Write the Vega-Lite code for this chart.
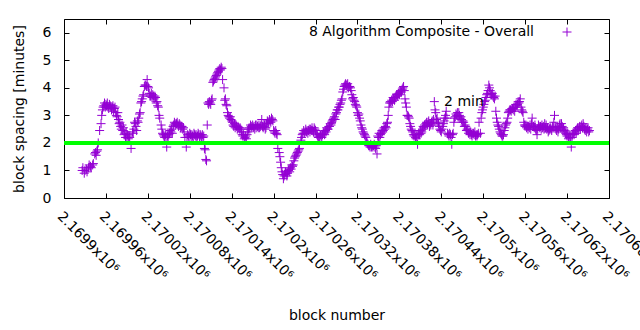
{
  "$schema": "https://vega.github.io/schema/vega-lite/v6.json",
  "width": 545,
  "height": 179,
  "autosize": {"type": "none"},
  "padding": {"left": 64, "top": 19, "right": 31, "bottom": 132},
  "background": "white",
  "config": {
    "font": "DejaVu Sans",
    "view": {"stroke": "black", "strokeWidth": 1},
    "axis": {"grid": false, "domain": false, "tickColor": "black", "tickSize": -5, "labelColor": "black", "labelFontSize": 14, "titleFontSize": 14, "titleFontWeight": "normal", "titleColor": "black"}
  },
  "resolve": {"axis": {"x": "independent", "y": "independent"}},
  "layer": [
    {
      "data": {"values": [
        {"block":2169926,"minutes":1.0},{"block":2169929,"minutes":0.9},{"block":2169932,"minutes":1.05},{"block":2169935,"minutes":1.1},{"block":2169938,"minutes":1.15},{"block":2169941,"minutes":1.2},{"block":2169944,"minutes":1.6},{"block":2169947,"minutes":1.7},{"block":2169949,"minutes":2.0},{"block":2169951,"minutes":2.45},{"block":2169953,"minutes":2.7},{"block":2169955,"minutes":3.2},{"block":2169957,"minutes":3.35},{"block":2169960,"minutes":3.4},{"block":2169963,"minutes":3.3},{"block":2169966,"minutes":3.35},{"block":2169969,"minutes":3.3},{"block":2169972,"minutes":3.25},{"block":2169975,"minutes":3.0},{"block":2169978,"minutes":2.85},{"block":2169981,"minutes":2.6},{"block":2169984,"minutes":2.45},{"block":2169987,"minutes":2.35},{"block":2169990,"minutes":2.2},{"block":2169993,"minutes":2.25},{"block":2169996,"minutes":1.8},{"block":2169998,"minutes":2.4},
        {"block":2170000,"minutes":2.5},{"block":2170002,"minutes":2.7},{"block":2170005,"minutes":2.8},{"block":2170008,"minutes":3.05},{"block":2170011,"minutes":3.5},{"block":2170013,"minutes":3.7},{"block":2170015,"minutes":4.05},{"block":2170017,"minutes":4.1},{"block":2170019,"minutes":4.3},{"block":2170021,"minutes":4.0},{"block":2170024,"minutes":3.7},{"block":2170027,"minutes":3.75},{"block":2170030,"minutes":3.7},{"block":2170033,"minutes":3.5},{"block":2170035,"minutes":3.3},{"block":2170037,"minutes":2.9},{"block":2170039,"minutes":2.65},{"block":2170042,"minutes":2.3},{"block":2170045,"minutes":2.3},{"block":2170047,"minutes":1.85},{"block":2170050,"minutes":2.3},{"block":2170053,"minutes":2.4},{"block":2170056,"minutes":2.6},{"block":2170059,"minutes":2.7},{"block":2170062,"minutes":2.75},{"block":2170065,"minutes":2.7},{"block":2170068,"minutes":2.6},{"block":2170071,"minutes":2.55},{"block":2170073,"minutes":2.2},{"block":2170075,"minutes":1.85},{"block":2170078,"minutes":2.25},{"block":2170081,"minutes":2.3},{"block":2170084,"minutes":2.25},{"block":2170087,"minutes":2.3},{"block":2170090,"minutes":2.2},{"block":2170093,"minutes":2.3},{"block":2170096,"minutes":2.25},{"block":2170099,"minutes":2.2},
        {"block":2170101,"minutes":1.8},{"block":2170103,"minutes":1.4},{"block":2170105,"minutes":2.65},{"block":2170107,"minutes":3.4},{"block":2170109,"minutes":3.45},{"block":2170111,"minutes":3.55},{"block":2170113,"minutes":4.2},{"block":2170115,"minutes":4.3},{"block":2170117,"minutes":4.4},{"block":2170119,"minutes":4.5},{"block":2170121,"minutes":4.6},{"block":2170123,"minutes":4.7},{"block":2170125,"minutes":4.75},{"block":2170127,"minutes":4.3},{"block":2170129,"minutes":4.0},{"block":2170131,"minutes":3.6},{"block":2170133,"minutes":3.35},{"block":2170135,"minutes":3.0},{"block":2170138,"minutes":2.95},{"block":2170141,"minutes":2.75},{"block":2170144,"minutes":2.7},{"block":2170147,"minutes":2.6},{"block":2170150,"minutes":2.55},{"block":2170153,"minutes":2.5},{"block":2170156,"minutes":2.25},{"block":2170159,"minutes":2.2},{"block":2170162,"minutes":2.3},{"block":2170165,"minutes":2.55},{"block":2170168,"minutes":2.6},{"block":2170171,"minutes":2.55},{"block":2170174,"minutes":2.65},{"block":2170177,"minutes":2.6},{"block":2170180,"minutes":2.55},{"block":2170183,"minutes":2.85},{"block":2170186,"minutes":2.6},{"block":2170189,"minutes":2.55},{"block":2170192,"minutes":2.75},{"block":2170195,"minutes":2.8},{"block":2170198,"minutes":2.85},
        {"block":2170201,"minutes":2.4},{"block":2170204,"minutes":2.35},{"block":2170206,"minutes":1.8},{"block":2170208,"minutes":1.65},{"block":2170210,"minutes":1.3},{"block":2170212,"minutes":0.95},{"block":2170214,"minutes":0.7},{"block":2170216,"minutes":0.85},{"block":2170218,"minutes":0.9},{"block":2170221,"minutes":1.0},{"block":2170224,"minutes":1.1},{"block":2170227,"minutes":1.15},{"block":2170230,"minutes":1.45},{"block":2170233,"minutes":1.6},{"block":2170235,"minutes":1.7},{"block":2170237,"minutes":1.8},{"block":2170239,"minutes":2.1},{"block":2170241,"minutes":2.3},{"block":2170244,"minutes":2.35},{"block":2170247,"minutes":2.4},{"block":2170250,"minutes":2.45},{"block":2170253,"minutes":2.5},{"block":2170256,"minutes":2.45},{"block":2170259,"minutes":2.5},{"block":2170262,"minutes":2.3},{"block":2170265,"minutes":2.2},{"block":2170268,"minutes":2.25},{"block":2170271,"minutes":2.35},{"block":2170274,"minutes":2.45},{"block":2170277,"minutes":2.5},{"block":2170280,"minutes":2.6},{"block":2170283,"minutes":2.75},{"block":2170286,"minutes":2.9},{"block":2170289,"minutes":3.05},{"block":2170292,"minutes":3.2},{"block":2170295,"minutes":3.4},{"block":2170298,"minutes":3.6},
        {"block":2170301,"minutes":4.05},{"block":2170303,"minutes":4.15},{"block":2170305,"minutes":4.1},{"block":2170307,"minutes":4.0},{"block":2170309,"minutes":4.05},{"block":2170311,"minutes":3.9},{"block":2170313,"minutes":3.6},{"block":2170315,"minutes":3.55},{"block":2170317,"minutes":3.4},{"block":2170319,"minutes":3.3},{"block":2170321,"minutes":3.0},{"block":2170323,"minutes":2.9},{"block":2170325,"minutes":2.65},{"block":2170327,"minutes":2.5},{"block":2170329,"minutes":2.35},{"block":2170331,"minutes":2.25},{"block":2170334,"minutes":2.0},{"block":2170337,"minutes":1.9},{"block":2170340,"minutes":1.85},{"block":2170343,"minutes":1.9},{"block":2170346,"minutes":1.8},{"block":2170348,"minutes":1.6},{"block":2170350,"minutes":2.2},{"block":2170353,"minutes":2.3},{"block":2170356,"minutes":2.4},{"block":2170359,"minutes":2.5},{"block":2170362,"minutes":2.7},{"block":2170364,"minutes":3.0},{"block":2170366,"minutes":3.45},{"block":2170369,"minutes":3.55},{"block":2170372,"minutes":3.6},{"block":2170375,"minutes":3.7},{"block":2170378,"minutes":3.75},{"block":2170381,"minutes":3.85},{"block":2170384,"minutes":3.95},{"block":2170386,"minutes":4.05},{"block":2170388,"minutes":3.6},{"block":2170390,"minutes":3.3},{"block":2170392,"minutes":3.0},{"block":2170394,"minutes":2.9},{"block":2170396,"minutes":2.6},{"block":2170398,"minutes":2.45},
        {"block":2170400,"minutes":2.3},{"block":2170403,"minutes":2.2},{"block":2170406,"minutes":1.95},{"block":2170409,"minutes":2.3},{"block":2170412,"minutes":2.4},{"block":2170415,"minutes":2.55},{"block":2170418,"minutes":2.7},{"block":2170421,"minutes":2.75},{"block":2170424,"minutes":2.7},{"block":2170427,"minutes":2.8},{"block":2170430,"minutes":3.5},{"block":2170432,"minutes":3.1},{"block":2170434,"minutes":2.9},{"block":2170436,"minutes":2.7},{"block":2170438,"minutes":2.5},{"block":2170440,"minutes":2.4},{"block":2170442,"minutes":2.6},{"block":2170445,"minutes":2.9},{"block":2170447,"minutes":3.15},{"block":2170449,"minutes":2.35},{"block":2170451,"minutes":2.25},{"block":2170453,"minutes":2.3},{"block":2170455,"minutes":1.95},{"block":2170457,"minutes":2.35},{"block":2170459,"minutes":2.9},{"block":2170462,"minutes":3.0},{"block":2170465,"minutes":3.1},{"block":2170468,"minutes":2.95},{"block":2170471,"minutes":2.8},{"block":2170474,"minutes":2.65},{"block":2170477,"minutes":2.5},{"block":2170480,"minutes":2.4},{"block":2170483,"minutes":2.3},{"block":2170486,"minutes":2.35},{"block":2170489,"minutes":2.25},{"block":2170492,"minutes":2.3},{"block":2170494,"minutes":2.75},{"block":2170496,"minutes":2.35},{"block":2170498,"minutes":3.1},
        {"block":2170500,"minutes":3.3},{"block":2170502,"minutes":3.5},{"block":2170504,"minutes":3.65},{"block":2170506,"minutes":3.8},{"block":2170508,"minutes":4.1},{"block":2170510,"minutes":3.9},{"block":2170512,"minutes":3.75},{"block":2170514,"minutes":3.7},{"block":2170516,"minutes":3.6},{"block":2170518,"minutes":3.15},{"block":2170520,"minutes":2.75},{"block":2170522,"minutes":2.6},{"block":2170524,"minutes":2.4},{"block":2170526,"minutes":2.3},{"block":2170528,"minutes":2.25},{"block":2170530,"minutes":2.45},{"block":2170532,"minutes":2.65},{"block":2170534,"minutes":2.75},{"block":2170536,"minutes":3.1},{"block":2170539,"minutes":3.2},{"block":2170542,"minutes":3.25},{"block":2170545,"minutes":3.15},{"block":2170548,"minutes":3.35},{"block":2170551,"minutes":3.45},{"block":2170553,"minutes":3.6},{"block":2170555,"minutes":3.2},{"block":2170557,"minutes":3.1},{"block":2170559,"minutes":2.65},{"block":2170562,"minutes":2.55},{"block":2170565,"minutes":2.6},{"block":2170568,"minutes":2.5},{"block":2170570,"minutes":2.9},{"block":2170572,"minutes":2.6},{"block":2170575,"minutes":2.5},{"block":2170577,"minutes":2.3},{"block":2170579,"minutes":2.65},{"block":2170582,"minutes":2.6},{"block":2170585,"minutes":2.55},{"block":2170588,"minutes":2.7},{"block":2170591,"minutes":2.5},{"block":2170594,"minutes":2.45},{"block":2170597,"minutes":2.5},
        {"block":2170600,"minutes":2.55},{"block":2170602,"minutes":3.0},{"block":2170604,"minutes":2.5},{"block":2170607,"minutes":2.4},{"block":2170610,"minutes":2.7},{"block":2170613,"minutes":2.6},{"block":2170616,"minutes":2.45},{"block":2170619,"minutes":2.3},{"block":2170622,"minutes":2.15},{"block":2170624,"minutes":2.3},{"block":2170626,"minutes":1.85},{"block":2170628,"minutes":2.3},{"block":2170631,"minutes":2.4},{"block":2170634,"minutes":2.5},{"block":2170637,"minutes":2.55},{"block":2170640,"minutes":2.6},{"block":2170643,"minutes":2.7},{"block":2170646,"minutes":2.45},{"block":2170649,"minutes":2.5},{"block":2170652,"minutes":2.45},
        {"block":2169927,"minutes":1.1},{"block":2169930,"minutes":1.0},{"block":2169933,"minutes":0.95},{"block":2169936,"minutes":1.2},{"block":2169939,"minutes":1.1},{"block":2169942,"minutes":1.25},{"block":2169945,"minutes":1.65},{"block":2169946,"minutes":1.55},{"block":2169948,"minutes":1.75},{"block":2169954,"minutes":3.0},{"block":2169956,"minutes":3.3},{"block":2169958,"minutes":3.45},{"block":2169959,"minutes":3.3},{"block":2169961,"minutes":3.35},{"block":2169962,"minutes":3.45},{"block":2169964,"minutes":3.25},{"block":2169965,"minutes":3.4},{"block":2169967,"minutes":3.3},{"block":2169968,"minutes":3.2},{"block":2169970,"minutes":3.35},{"block":2169971,"minutes":3.15},{"block":2169973,"minutes":3.3},{"block":2169974,"minutes":3.1},{"block":2169976,"minutes":2.95},{"block":2169977,"minutes":3.1},{"block":2169979,"minutes":2.7},{"block":2169980,"minutes":2.75},{"block":2169982,"minutes":2.5},{"block":2169983,"minutes":2.65},{"block":2169985,"minutes":2.55},{"block":2169986,"minutes":2.3},{"block":2169988,"minutes":2.2},{"block":2169989,"minutes":2.4},{"block":2169991,"minutes":2.3},{"block":2169992,"minutes":2.15},{"block":2169994,"minutes":2.2},{"block":2169999,"minutes":2.35},
        {"block":2170001,"minutes":2.75},{"block":2170003,"minutes":2.6},{"block":2170004,"minutes":2.45},{"block":2170006,"minutes":2.75},{"block":2170007,"minutes":2.9},{"block":2170009,"minutes":3.1},{"block":2170010,"minutes":3.45},{"block":2170012,"minutes":3.6},{"block":2170014,"minutes":3.75},{"block":2170016,"minutes":4.1},{"block":2170018,"minutes":4.05},{"block":2170020,"minutes":4.05},{"block":2170022,"minutes":3.8},{"block":2170023,"minutes":3.7},{"block":2170025,"minutes":3.8},{"block":2170026,"minutes":3.65},{"block":2170028,"minutes":3.7},{"block":2170029,"minutes":3.6},{"block":2170031,"minutes":3.65},{"block":2170032,"minutes":3.45},{"block":2170034,"minutes":3.35},{"block":2170036,"minutes":3.0},{"block":2170040,"minutes":2.5},{"block":2170041,"minutes":2.35},{"block":2170043,"minutes":2.25},{"block":2170044,"minutes":2.2},{"block":2170046,"minutes":2.2},{"block":2170048,"minutes":2.25},{"block":2170049,"minutes":2.2},{"block":2170051,"minutes":2.35},{"block":2170052,"minutes":2.45},{"block":2170054,"minutes":2.5},{"block":2170055,"minutes":2.35},{"block":2170057,"minutes":2.65},{"block":2170058,"minutes":2.75},{"block":2170060,"minutes":2.65},{"block":2170061,"minutes":2.7},{"block":2170063,"minutes":2.65},{"block":2170064,"minutes":2.6},{"block":2170066,"minutes":2.65},{"block":2170067,"minutes":2.55},{"block":2170069,"minutes":2.6},{"block":2170070,"minutes":2.5},{"block":2170072,"minutes":2.4},{"block":2170076,"minutes":2.2},{"block":2170077,"minutes":2.3},{"block":2170079,"minutes":2.2},{"block":2170080,"minutes":2.35},{"block":2170082,"minutes":2.2},{"block":2170083,"minutes":2.3},{"block":2170085,"minutes":2.2},{"block":2170086,"minutes":2.35},{"block":2170088,"minutes":2.25},{"block":2170089,"minutes":2.3},{"block":2170091,"minutes":2.25},{"block":2170092,"minutes":2.35},{"block":2170094,"minutes":2.2},{"block":2170095,"minutes":2.3},{"block":2170097,"minutes":2.2},{"block":2170098,"minutes":2.3},
        {"block":2170100,"minutes":2.25},{"block":2170102,"minutes":1.75},{"block":2170104,"minutes":1.35},{"block":2170106,"minutes":3.45},{"block":2170108,"minutes":3.5},{"block":2170110,"minutes":3.4},{"block":2170112,"minutes":3.6},{"block":2170114,"minutes":4.25},{"block":2170116,"minutes":4.35},{"block":2170118,"minutes":4.45},{"block":2170120,"minutes":4.55},{"block":2170122,"minutes":4.65},{"block":2170124,"minutes":4.65},{"block":2170126,"minutes":4.7},{"block":2170130,"minutes":3.55},{"block":2170132,"minutes":3.4},{"block":2170134,"minutes":3.1},{"block":2170136,"minutes":2.95},{"block":2170137,"minutes":2.9},{"block":2170139,"minutes":2.85},{"block":2170140,"minutes":2.8},{"block":2170142,"minutes":2.65},{"block":2170143,"minutes":2.6},{"block":2170145,"minutes":2.55},{"block":2170146,"minutes":2.65},{"block":2170148,"minutes":2.5},{"block":2170149,"minutes":2.6},{"block":2170151,"minutes":2.5},{"block":2170152,"minutes":2.55},{"block":2170154,"minutes":2.4},{"block":2170155,"minutes":2.3},{"block":2170157,"minutes":2.3},{"block":2170158,"minutes":2.15},{"block":2170160,"minutes":2.25},{"block":2170161,"minutes":2.15},{"block":2170163,"minutes":2.4},{"block":2170164,"minutes":2.5},{"block":2170166,"minutes":2.5},{"block":2170167,"minutes":2.65},{"block":2170169,"minutes":2.55},{"block":2170170,"minutes":2.65},{"block":2170172,"minutes":2.6},{"block":2170173,"minutes":2.5},{"block":2170175,"minutes":2.55},{"block":2170176,"minutes":2.65},{"block":2170178,"minutes":2.55},{"block":2170179,"minutes":2.65},{"block":2170181,"minutes":2.6},{"block":2170182,"minutes":2.65},{"block":2170184,"minutes":2.6},{"block":2170185,"minutes":2.55},{"block":2170187,"minutes":2.65},{"block":2170188,"minutes":2.5},{"block":2170190,"minutes":2.7},{"block":2170191,"minutes":2.8},{"block":2170193,"minutes":2.7},{"block":2170194,"minutes":2.85},{"block":2170196,"minutes":2.75},{"block":2170197,"minutes":2.9},{"block":2170199,"minutes":2.8},
        {"block":2170200,"minutes":2.45},{"block":2170202,"minutes":2.35},{"block":2170203,"minutes":2.45},{"block":2170205,"minutes":2.3},{"block":2170209,"minutes":1.5},{"block":2170211,"minutes":1.1},{"block":2170213,"minutes":0.85},{"block":2170215,"minutes":0.8},{"block":2170217,"minutes":0.95},{"block":2170219,"minutes":0.8},{"block":2170220,"minutes":0.9},{"block":2170222,"minutes":1.05},{"block":2170223,"minutes":0.95},{"block":2170225,"minutes":1.05},{"block":2170226,"minutes":1.2},{"block":2170228,"minutes":1.2},{"block":2170229,"minutes":1.35},{"block":2170231,"minutes":1.5},{"block":2170232,"minutes":1.55},{"block":2170234,"minutes":1.65},{"block":2170236,"minutes":1.75},{"block":2170240,"minutes":2.2},{"block":2170242,"minutes":2.35},{"block":2170243,"minutes":2.45},{"block":2170245,"minutes":2.4},{"block":2170246,"minutes":2.5},{"block":2170248,"minutes":2.45},{"block":2170249,"minutes":2.35},{"block":2170251,"minutes":2.5},{"block":2170252,"minutes":2.4},{"block":2170254,"minutes":2.45},{"block":2170255,"minutes":2.55},{"block":2170257,"minutes":2.4},{"block":2170258,"minutes":2.55},{"block":2170260,"minutes":2.45},{"block":2170261,"minutes":2.35},{"block":2170263,"minutes":2.25},{"block":2170264,"minutes":2.2},{"block":2170266,"minutes":2.2},{"block":2170267,"minutes":2.3},{"block":2170269,"minutes":2.2},{"block":2170270,"minutes":2.3},{"block":2170272,"minutes":2.4},{"block":2170273,"minutes":2.3},{"block":2170275,"minutes":2.4},{"block":2170276,"minutes":2.55},{"block":2170278,"minutes":2.5},{"block":2170279,"minutes":2.6},{"block":2170281,"minutes":2.7},{"block":2170282,"minutes":2.65},{"block":2170284,"minutes":2.8},{"block":2170285,"minutes":2.85},{"block":2170287,"minutes":2.95},{"block":2170288,"minutes":2.85},{"block":2170290,"minutes":3.1},{"block":2170291,"minutes":3.2},{"block":2170293,"minutes":3.3},{"block":2170294,"minutes":3.3},{"block":2170296,"minutes":3.45},{"block":2170297,"minutes":3.55},{"block":2170299,"minutes":3.85},
        {"block":2170300,"minutes":3.95},{"block":2170302,"minutes":4.1},{"block":2170304,"minutes":4.1},{"block":2170306,"minutes":4.15},{"block":2170308,"minutes":4.05},{"block":2170310,"minutes":4.0},{"block":2170312,"minutes":3.75},{"block":2170314,"minutes":3.65},{"block":2170316,"minutes":3.5},{"block":2170318,"minutes":3.35},{"block":2170320,"minutes":3.1},{"block":2170322,"minutes":3.05},{"block":2170324,"minutes":2.8},{"block":2170326,"minutes":2.55},{"block":2170328,"minutes":2.4},{"block":2170330,"minutes":2.3},{"block":2170332,"minutes":2.2},{"block":2170333,"minutes":2.05},{"block":2170335,"minutes":1.95},{"block":2170336,"minutes":1.9},{"block":2170338,"minutes":1.85},{"block":2170339,"minutes":1.95},{"block":2170341,"minutes":1.9},{"block":2170342,"minutes":1.85},{"block":2170344,"minutes":1.95},{"block":2170345,"minutes":1.85},{"block":2170347,"minutes":1.9},{"block":2170349,"minutes":2.25},{"block":2170351,"minutes":2.35},{"block":2170352,"minutes":2.2},{"block":2170354,"minutes":2.35},{"block":2170355,"minutes":2.45},{"block":2170357,"minutes":2.45},{"block":2170358,"minutes":2.55},{"block":2170360,"minutes":2.6},{"block":2170361,"minutes":2.55},{"block":2170363,"minutes":2.75},{"block":2170365,"minutes":3.3},{"block":2170367,"minutes":3.5},{"block":2170368,"minutes":3.45},{"block":2170370,"minutes":3.5},{"block":2170371,"minutes":3.65},{"block":2170373,"minutes":3.55},{"block":2170374,"minutes":3.65},{"block":2170376,"minutes":3.75},{"block":2170377,"minutes":3.7},{"block":2170379,"minutes":3.8},{"block":2170380,"minutes":3.75},{"block":2170382,"minutes":3.9},{"block":2170383,"minutes":3.85},{"block":2170385,"minutes":4.0},{"block":2170387,"minutes":3.9},{"block":2170389,"minutes":3.45},{"block":2170391,"minutes":3.0},{"block":2170393,"minutes":2.95},{"block":2170395,"minutes":2.7},{"block":2170397,"minutes":2.5},{"block":2170399,"minutes":2.4},
        {"block":2170401,"minutes":2.25},{"block":2170402,"minutes":2.3},{"block":2170404,"minutes":2.15},{"block":2170405,"minutes":2.25},{"block":2170407,"minutes":2.3},{"block":2170408,"minutes":2.35},{"block":2170410,"minutes":2.45},{"block":2170411,"minutes":2.35},{"block":2170413,"minutes":2.5},{"block":2170414,"minutes":2.6},{"block":2170416,"minutes":2.65},{"block":2170417,"minutes":2.6},{"block":2170419,"minutes":2.75},{"block":2170420,"minutes":2.65},{"block":2170422,"minutes":2.8},{"block":2170423,"minutes":2.6},{"block":2170425,"minutes":2.65},{"block":2170426,"minutes":2.75},{"block":2170428,"minutes":2.65},{"block":2170429,"minutes":2.85},{"block":2170431,"minutes":3.2},{"block":2170433,"minutes":2.85},{"block":2170435,"minutes":2.75},{"block":2170437,"minutes":2.6},{"block":2170439,"minutes":2.45},{"block":2170441,"minutes":2.5},{"block":2170443,"minutes":2.7},{"block":2170444,"minutes":2.8},{"block":2170446,"minutes":3.0},{"block":2170448,"minutes":2.9},{"block":2170450,"minutes":2.3},{"block":2170452,"minutes":2.35},{"block":2170454,"minutes":2.2},{"block":2170456,"minutes":2.3},{"block":2170458,"minutes":2.75},{"block":2170460,"minutes":2.95},{"block":2170461,"minutes":3.05},{"block":2170463,"minutes":3.1},{"block":2170464,"minutes":2.95},{"block":2170466,"minutes":3.0},{"block":2170467,"minutes":2.9},{"block":2170469,"minutes":2.85},{"block":2170470,"minutes":2.75},{"block":2170472,"minutes":2.75},{"block":2170473,"minutes":2.6},{"block":2170475,"minutes":2.6},{"block":2170476,"minutes":2.45},{"block":2170478,"minutes":2.45},{"block":2170479,"minutes":2.35},{"block":2170481,"minutes":2.3},{"block":2170482,"minutes":2.4},{"block":2170484,"minutes":2.25},{"block":2170485,"minutes":2.35},{"block":2170487,"minutes":2.3},{"block":2170488,"minutes":2.4},{"block":2170490,"minutes":2.3},{"block":2170491,"minutes":2.25},{"block":2170493,"minutes":2.35},{"block":2170497,"minutes":2.9},{"block":2170499,"minutes":3.2},
        {"block":2170501,"minutes":3.4},{"block":2170503,"minutes":3.55},{"block":2170505,"minutes":3.75},{"block":2170507,"minutes":3.9},{"block":2170509,"minutes":4.0},{"block":2170511,"minutes":3.8},{"block":2170513,"minutes":3.8},{"block":2170515,"minutes":3.65},{"block":2170517,"minutes":3.7},{"block":2170519,"minutes":2.9},{"block":2170521,"minutes":2.65},{"block":2170523,"minutes":2.5},{"block":2170525,"minutes":2.35},{"block":2170527,"minutes":2.25},{"block":2170529,"minutes":2.3},{"block":2170531,"minutes":2.55},{"block":2170533,"minutes":2.7},{"block":2170535,"minutes":2.9},{"block":2170537,"minutes":3.15},{"block":2170538,"minutes":3.2},{"block":2170540,"minutes":3.15},{"block":2170541,"minutes":3.25},{"block":2170543,"minutes":3.2},{"block":2170544,"minutes":3.3},{"block":2170546,"minutes":3.3},{"block":2170547,"minutes":3.4},{"block":2170549,"minutes":3.4},{"block":2170550,"minutes":3.5},{"block":2170552,"minutes":3.5},{"block":2170554,"minutes":3.3},{"block":2170556,"minutes":3.15},{"block":2170558,"minutes":2.75},{"block":2170560,"minutes":2.6},{"block":2170561,"minutes":2.65},{"block":2170563,"minutes":2.6},{"block":2170564,"minutes":2.5},{"block":2170566,"minutes":2.55},{"block":2170567,"minutes":2.65},{"block":2170569,"minutes":2.7},{"block":2170571,"minutes":2.6},{"block":2170573,"minutes":2.55},{"block":2170574,"minutes":2.65},{"block":2170576,"minutes":2.45},{"block":2170578,"minutes":2.5},{"block":2170580,"minutes":2.6},{"block":2170581,"minutes":2.55},{"block":2170583,"minutes":2.5},{"block":2170584,"minutes":2.65},{"block":2170586,"minutes":2.6},{"block":2170587,"minutes":2.5},{"block":2170589,"minutes":2.55},{"block":2170590,"minutes":2.65},{"block":2170592,"minutes":2.55},{"block":2170593,"minutes":2.4},{"block":2170595,"minutes":2.5},{"block":2170596,"minutes":2.55},{"block":2170598,"minutes":2.45},{"block":2170599,"minutes":2.6},
        {"block":2170601,"minutes":2.75},{"block":2170603,"minutes":2.6},{"block":2170605,"minutes":2.45},{"block":2170606,"minutes":2.55},{"block":2170608,"minutes":2.5},{"block":2170609,"minutes":2.65},{"block":2170611,"minutes":2.55},{"block":2170612,"minutes":2.7},{"block":2170614,"minutes":2.5},{"block":2170615,"minutes":2.55},{"block":2170617,"minutes":2.4},{"block":2170618,"minutes":2.35},{"block":2170620,"minutes":2.25},{"block":2170621,"minutes":2.35},{"block":2170623,"minutes":2.2},{"block":2170625,"minutes":2.2},{"block":2170627,"minutes":2.2},{"block":2170629,"minutes":2.35},{"block":2170630,"minutes":2.3},{"block":2170632,"minutes":2.45},{"block":2170633,"minutes":2.35},{"block":2170635,"minutes":2.55},{"block":2170636,"minutes":2.45},{"block":2170638,"minutes":2.6},{"block":2170639,"minutes":2.5},{"block":2170641,"minutes":2.65},{"block":2170642,"minutes":2.55},{"block":2170644,"minutes":2.6},{"block":2170645,"minutes":2.5},{"block":2170647,"minutes":2.55},{"block":2170648,"minutes":2.4},{"block":2170650,"minutes":2.55},{"block":2170651,"minutes":2.4}
      ]},
      "mark": {"type": "point", "shape": "M-1,0L1,0M0,-1L0,1", "filled": false, "strokeWidth": 1, "size": 81, "opacity": 1},
      "encoding": {
        "x": {"field": "block", "type": "quantitative", "scale": {"domain": [2169900, 2170680], "nice": false, "zero": false},
          "axis": {"orient": "bottom", "values": [2169900, 2169960, 2170020, 2170080, 2170140, 2170200, 2170260, 2170320, 2170380, 2170440, 2170500, 2170560, 2170620, 2170680],
            "labelExpr": "format(datum.value / 1000000, '.5~f') + 'x10⁶'", "labelAngle": 45, "labelAlign": "left", "labelBaseline": "top", "labelPadding": 16, "labelFlush": false, "labelOverlap": false, "labelBound": false,
            "title": "block number", "titlePadding": 26}},
        "y": {"field": "minutes", "type": "quantitative", "scale": {"domain": [0, 6.5], "nice": false},
          "axis": {"orient": "left", "values": [0, 1, 2, 3, 4, 5, 6], "labelPadding": 18, "title": "block spacing [minutes]", "titlePadding": 16}},
        "color": {"datum": "8 Algorithm Composite - Overall", "type": "nominal", "scale": {"range": ["#9400d3"]},
          "legend": {"orient": "none", "legendX": 496, "legendY": 6, "title": null, "padding": 0, "labelFontSize": 14, "labelColor": "black", "labelAlign": "right", "labelOffset": -40, "labelLimit": 0, "symbolSize": 81, "symbolType": "M-1,0L1,0M0,-1L0,1", "symbolStrokeWidth": 1, "symbolFillColor": "transparent"}}
      }
    },
    {
      "data": {"values": [{"level": 2}]},
      "mark": {"type": "rule", "color": "#00ff00", "strokeWidth": 4},
      "encoding": {"y": {"field": "level", "type": "quantitative", "axis": null}}
    },
    {
      "data": {"values": [{"block": 2170444, "minutes": 3.5, "label": "2 min"}]},
      "mark": {"type": "text", "align": "left", "baseline": "middle", "fontSize": 14, "color": "black"},
      "encoding": {
        "x": {"field": "block", "type": "quantitative", "axis": {"orient": "top", "values": [2169900, 2169960, 2170020, 2170080, 2170140, 2170200, 2170260, 2170320, 2170380, 2170440, 2170500, 2170560, 2170620, 2170680], "labels": false, "title": null}},
        "y": {"field": "minutes", "type": "quantitative", "axis": {"orient": "right", "values": [0, 1, 2, 3, 4, 5, 6], "labels": false, "title": null}},
        "text": {"field": "label"}
      }
    }
  ]
}
